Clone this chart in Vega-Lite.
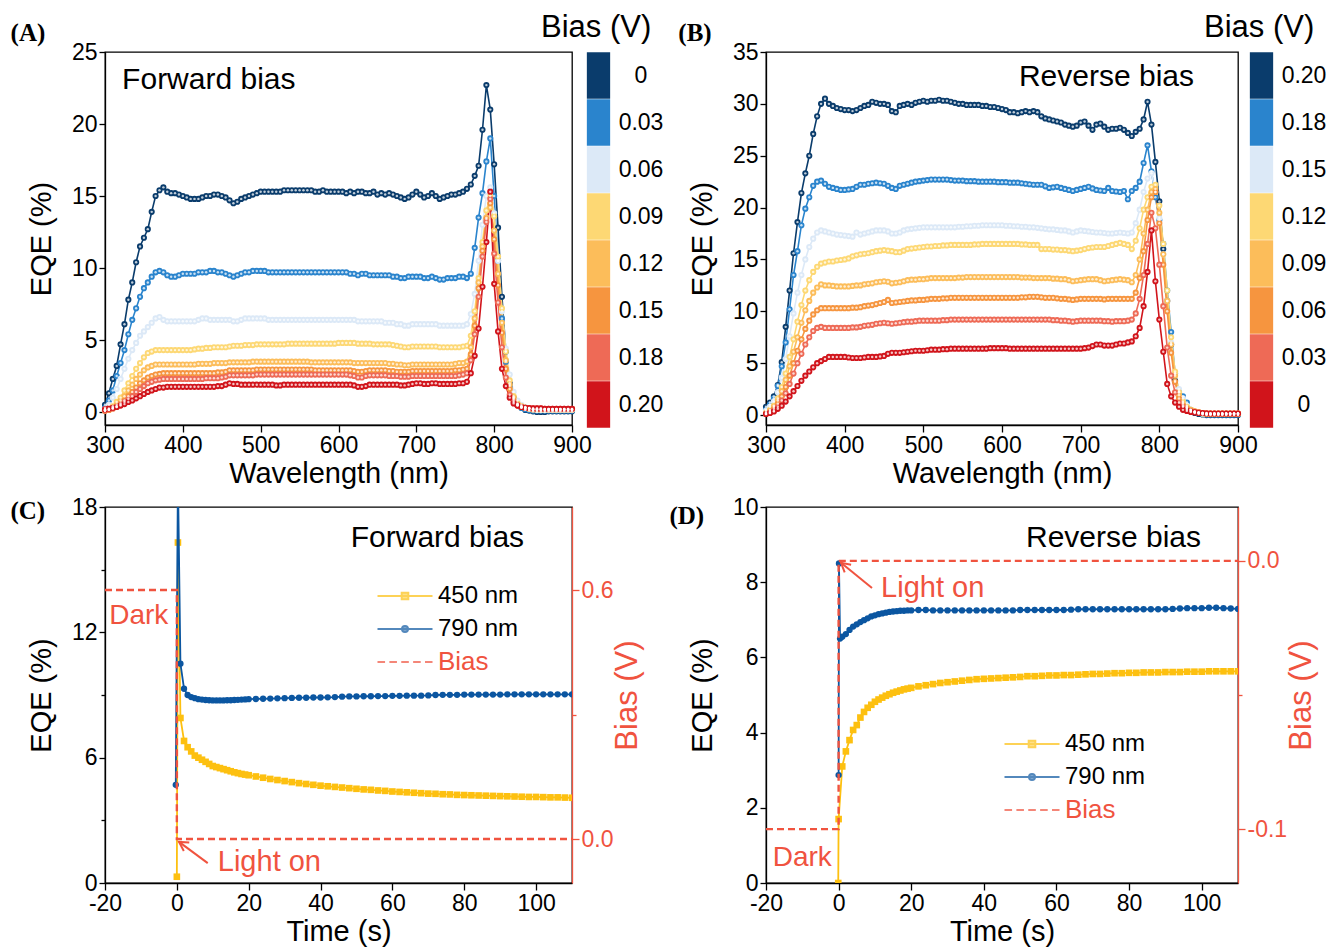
{
"$schema": "https://vega.github.io/schema/vega-lite/v6.json",
"padding": {"left": 9, "top": 11, "right": 0, "bottom": 0},
"background": "white",
"config": {
  "font": "Liberation Sans",
  "view": {"stroke": "black", "strokeWidth": 1.3},
  "axis": {"grid": false, "domainColor": "black", "domainWidth": 1.3, "tickColor": "black", "tickWidth": 1.3, "labelColor": "black", "titleColor": "black", "labelFont": "Liberation Sans", "titleFont": "Liberation Sans", "labelFontSize": 23, "titleFontSize": 29, "titleFontWeight": "normal", "labelFlush": false, "labelOverlap": false, "labelPadding": 2},
  "legend": {"labelFont": "Liberation Sans"}
},
"datasets": {
"A": [
{"w":300,"k0":0.5,"k03":0.3,"k06":0.2,"k09":0.1,"k12":0.1,"k15":0.1,"k18":0.1,"k20":0.2},
{"w":305,"k0":1.3,"k03":0.8,"k06":0.5,"k09":0.2,"k12":0.15,"k15":0.15,"k18":0.2,"k20":0.25},
{"w":310,"k0":2.3,"k03":1.5,"k06":1.0,"k09":0.4,"k12":0.3,"k15":0.25,"k18":0.25,"k20":0.3},
{"w":315,"k0":3.2,"k03":2.5,"k06":1.6,"k09":0.7,"k12":0.5,"k15":0.4,"k18":0.35,"k20":0.35},
{"w":320,"k0":4.7,"k03":3.4,"k06":2.3,"k09":1.0,"k12":0.8,"k15":0.6,"k18":0.5,"k20":0.45},
{"w":325,"k0":6.1,"k03":4.3,"k06":3.0,"k09":1.5,"k12":1.1,"k15":0.8,"k18":0.7,"k20":0.55},
{"w":330,"k0":7.8,"k03":5.4,"k06":3.7,"k09":2.0,"k12":1.5,"k15":1.1,"k18":0.9,"k20":0.7},
{"w":335,"k0":9.0,"k03":6.4,"k06":4.3,"k09":2.5,"k12":1.9,"k15":1.4,"k18":1.1,"k20":0.8},
{"w":340,"k0":10.4,"k03":7.2,"k06":4.8,"k09":3.0,"k12":2.3,"k15":1.7,"k18":1.4,"k20":0.95},
{"w":345,"k0":11.5,"k03":8.0,"k06":5.3,"k09":3.4,"k12":2.6,"k15":2.0,"k18":1.6,"k20":1.1},
{"w":350,"k0":12.1,"k03":8.6,"k06":5.6,"k09":3.8,"k12":2.9,"k15":2.2,"k18":1.8,"k20":1.25},
{"w":355,"k0":12.7,"k03":9.0,"k06":5.9,"k09":4.1,"k12":3.1,"k15":2.4,"k18":2.0,"k20":1.4},
{"w":360,"k0":13.9,"k03":9.4,"k06":6.2,"k09":4.2,"k12":3.2,"k15":2.5,"k18":2.1,"k20":1.5},
{"w":365,"k0":15.0,"k03":9.7,"k06":6.5,"k09":4.3,"k12":3.3,"k15":2.6,"k18":2.2,"k20":1.6},
{"w":370,"k0":15.4,"k03":9.8,"k06":6.6,"k09":4.3,"k12":3.3,"k15":2.65,"k18":2.25,"k20":1.7},
{"w":375,"k0":15.6,"k03":9.7,"k06":6.4,"k09":4.3,"k12":3.3,"k15":2.7,"k18":2.3,"k20":1.7},
{"w":380,"k0":15.3,"k03":9.5,"k06":6.3,"k09":4.3,"k12":3.3,"k15":2.7,"k18":2.3,"k20":1.75},
{"w":385,"k0":15.2,"k03":9.4,"k06":6.3,"k09":4.3,"k12":3.3,"k15":2.7,"k18":2.3,"k20":1.75},
{"w":390,"k0":15.2,"k03":9.4,"k06":6.3,"k09":4.3,"k12":3.3,"k15":2.7,"k18":2.3,"k20":1.75},
{"w":395,"k0":15.1,"k03":9.5,"k06":6.3,"k09":4.3,"k12":3.3,"k15":2.7,"k18":2.3,"k20":1.75},
{"w":400,"k0":15.0,"k03":9.6,"k06":6.3,"k09":4.3,"k12":3.3,"k15":2.7,"k18":2.3,"k20":1.75},
{"w":405,"k0":14.9,"k03":9.6,"k06":6.3,"k09":4.3,"k12":3.3,"k15":2.7,"k18":2.3,"k20":1.75},
{"w":410,"k0":14.8,"k03":9.6,"k06":6.3,"k09":4.3,"k12":3.3,"k15":2.7,"k18":2.3,"k20":1.75},
{"w":415,"k0":14.8,"k03":9.6,"k06":6.3,"k09":4.35,"k12":3.3,"k15":2.7,"k18":2.3,"k20":1.75},
{"w":420,"k0":14.8,"k03":9.7,"k06":6.4,"k09":4.4,"k12":3.35,"k15":2.7,"k18":2.3,"k20":1.75},
{"w":425,"k0":14.9,"k03":9.7,"k06":6.5,"k09":4.4,"k12":3.35,"k15":2.7,"k18":2.3,"k20":1.75},
{"w":430,"k0":15.0,"k03":9.7,"k06":6.5,"k09":4.45,"k12":3.35,"k15":2.7,"k18":2.35,"k20":1.75},
{"w":435,"k0":15.0,"k03":9.8,"k06":6.4,"k09":4.45,"k12":3.35,"k15":2.7,"k18":2.35,"k20":1.75},
{"w":440,"k0":15.1,"k03":9.8,"k06":6.4,"k09":4.5,"k12":3.4,"k15":2.7,"k18":2.35,"k20":1.75},
{"w":445,"k0":15.1,"k03":9.7,"k06":6.4,"k09":4.5,"k12":3.4,"k15":2.75,"k18":2.35,"k20":1.8},
{"w":450,"k0":15.0,"k03":9.7,"k06":6.4,"k09":4.5,"k12":3.4,"k15":2.75,"k18":2.4,"k20":1.8},
{"w":455,"k0":14.9,"k03":9.6,"k06":6.4,"k09":4.5,"k12":3.4,"k15":2.8,"k18":2.45,"k20":1.9},
{"w":460,"k0":14.7,"k03":9.5,"k06":6.4,"k09":4.55,"k12":3.45,"k15":2.9,"k18":2.55,"k20":2.0},
{"w":465,"k0":14.5,"k03":9.4,"k06":6.3,"k09":4.6,"k12":3.45,"k15":2.9,"k18":2.55,"k20":1.95},
{"w":470,"k0":14.6,"k03":9.5,"k06":6.3,"k09":4.6,"k12":3.45,"k15":2.9,"k18":2.55,"k20":1.95},
{"w":475,"k0":14.8,"k03":9.6,"k06":6.4,"k09":4.6,"k12":3.45,"k15":2.9,"k18":2.55,"k20":1.9},
{"w":480,"k0":14.9,"k03":9.7,"k06":6.5,"k09":4.65,"k12":3.45,"k15":2.9,"k18":2.55,"k20":1.9},
{"w":485,"k0":15.0,"k03":9.7,"k06":6.5,"k09":4.65,"k12":3.45,"k15":2.9,"k18":2.55,"k20":1.9},
{"w":490,"k0":15.1,"k03":9.8,"k06":6.5,"k09":4.65,"k12":3.5,"k15":2.9,"k18":2.55,"k20":1.9},
{"w":495,"k0":15.2,"k03":9.8,"k06":6.5,"k09":4.7,"k12":3.5,"k15":2.95,"k18":2.6,"k20":1.9},
{"w":500,"k0":15.3,"k03":9.8,"k06":6.5,"k09":4.7,"k12":3.5,"k15":2.95,"k18":2.6,"k20":1.9},
{"w":505,"k0":15.3,"k03":9.8,"k06":6.5,"k09":4.7,"k12":3.5,"k15":2.95,"k18":2.6,"k20":1.9},
{"w":510,"k0":15.3,"k03":9.7,"k06":6.4,"k09":4.7,"k12":3.5,"k15":2.95,"k18":2.6,"k20":1.9},
{"w":515,"k0":15.3,"k03":9.7,"k06":6.4,"k09":4.7,"k12":3.5,"k15":2.95,"k18":2.6,"k20":1.9},
{"w":520,"k0":15.3,"k03":9.7,"k06":6.4,"k09":4.7,"k12":3.5,"k15":2.95,"k18":2.6,"k20":1.85},
{"w":525,"k0":15.3,"k03":9.7,"k06":6.4,"k09":4.7,"k12":3.5,"k15":2.95,"k18":2.6,"k20":1.85},
{"w":530,"k0":15.4,"k03":9.7,"k06":6.4,"k09":4.7,"k12":3.5,"k15":2.95,"k18":2.6,"k20":1.9},
{"w":535,"k0":15.4,"k03":9.7,"k06":6.4,"k09":4.75,"k12":3.5,"k15":2.95,"k18":2.6,"k20":1.9},
{"w":540,"k0":15.4,"k03":9.7,"k06":6.4,"k09":4.75,"k12":3.5,"k15":2.95,"k18":2.6,"k20":1.9},
{"w":545,"k0":15.4,"k03":9.7,"k06":6.4,"k09":4.75,"k12":3.5,"k15":2.95,"k18":2.6,"k20":1.9},
{"w":550,"k0":15.4,"k03":9.7,"k06":6.4,"k09":4.75,"k12":3.5,"k15":2.95,"k18":2.6,"k20":1.9},
{"w":555,"k0":15.4,"k03":9.7,"k06":6.4,"k09":4.75,"k12":3.5,"k15":2.95,"k18":2.6,"k20":1.9},
{"w":560,"k0":15.4,"k03":9.7,"k06":6.4,"k09":4.75,"k12":3.5,"k15":2.95,"k18":2.6,"k20":1.9},
{"w":565,"k0":15.4,"k03":9.7,"k06":6.4,"k09":4.75,"k12":3.45,"k15":2.95,"k18":2.6,"k20":1.9},
{"w":570,"k0":15.3,"k03":9.7,"k06":6.4,"k09":4.75,"k12":3.45,"k15":2.9,"k18":2.6,"k20":1.9},
{"w":575,"k0":15.3,"k03":9.7,"k06":6.4,"k09":4.75,"k12":3.45,"k15":2.9,"k18":2.6,"k20":1.9},
{"w":580,"k0":15.4,"k03":9.7,"k06":6.4,"k09":4.75,"k12":3.45,"k15":2.9,"k18":2.6,"k20":1.9},
{"w":585,"k0":15.3,"k03":9.7,"k06":6.4,"k09":4.75,"k12":3.45,"k15":2.9,"k18":2.6,"k20":1.9},
{"w":590,"k0":15.3,"k03":9.7,"k06":6.4,"k09":4.75,"k12":3.45,"k15":2.9,"k18":2.6,"k20":1.9},
{"w":595,"k0":15.3,"k03":9.7,"k06":6.4,"k09":4.75,"k12":3.45,"k15":2.9,"k18":2.6,"k20":1.9},
{"w":600,"k0":15.3,"k03":9.7,"k06":6.4,"k09":4.8,"k12":3.45,"k15":2.9,"k18":2.6,"k20":1.9},
{"w":605,"k0":15.3,"k03":9.7,"k06":6.4,"k09":4.8,"k12":3.45,"k15":2.9,"k18":2.6,"k20":1.9},
{"w":610,"k0":15.2,"k03":9.7,"k06":6.4,"k09":4.8,"k12":3.45,"k15":2.9,"k18":2.6,"k20":1.9},
{"w":615,"k0":15.3,"k03":9.6,"k06":6.4,"k09":4.8,"k12":3.45,"k15":2.9,"k18":2.55,"k20":1.9},
{"w":620,"k0":15.2,"k03":9.6,"k06":6.4,"k09":4.8,"k12":3.4,"k15":2.85,"k18":2.5,"k20":1.85},
{"w":625,"k0":15.3,"k03":9.5,"k06":6.3,"k09":4.75,"k12":3.4,"k15":2.8,"k18":2.4,"k20":1.75},
{"w":630,"k0":15.3,"k03":9.6,"k06":6.3,"k09":4.75,"k12":3.4,"k15":2.8,"k18":2.4,"k20":1.75},
{"w":635,"k0":15.2,"k03":9.6,"k06":6.3,"k09":4.75,"k12":3.4,"k15":2.85,"k18":2.5,"k20":1.8},
{"w":640,"k0":15.2,"k03":9.5,"k06":6.3,"k09":4.75,"k12":3.4,"k15":2.9,"k18":2.55,"k20":1.9},
{"w":645,"k0":15.3,"k03":9.5,"k06":6.3,"k09":4.7,"k12":3.4,"k15":2.9,"k18":2.55,"k20":1.9},
{"w":650,"k0":15.1,"k03":9.5,"k06":6.3,"k09":4.7,"k12":3.4,"k15":2.9,"k18":2.55,"k20":1.9},
{"w":655,"k0":15.2,"k03":9.5,"k06":6.3,"k09":4.7,"k12":3.4,"k15":2.9,"k18":2.55,"k20":1.9},
{"w":660,"k0":15.1,"k03":9.5,"k06":6.2,"k09":4.7,"k12":3.4,"k15":2.9,"k18":2.55,"k20":1.9},
{"w":665,"k0":15.2,"k03":9.5,"k06":6.2,"k09":4.7,"k12":3.35,"k15":2.85,"k18":2.5,"k20":1.9},
{"w":670,"k0":15.1,"k03":9.4,"k06":6.2,"k09":4.65,"k12":3.35,"k15":2.85,"k18":2.5,"k20":1.9},
{"w":675,"k0":15.0,"k03":9.4,"k06":6.1,"k09":4.6,"k12":3.3,"k15":2.8,"k18":2.5,"k20":1.9},
{"w":680,"k0":14.9,"k03":9.3,"k06":6.1,"k09":4.55,"k12":3.3,"k15":2.8,"k18":2.45,"k20":1.85},
{"w":685,"k0":14.8,"k03":9.3,"k06":6.0,"k09":4.5,"k12":3.25,"k15":2.8,"k18":2.45,"k20":1.85},
{"w":690,"k0":14.9,"k03":9.4,"k06":6.0,"k09":4.5,"k12":3.25,"k15":2.8,"k18":2.45,"k20":1.9},
{"w":695,"k0":15.1,"k03":9.4,"k06":6.1,"k09":4.55,"k12":3.3,"k15":2.85,"k18":2.5,"k20":1.95},
{"w":700,"k0":15.3,"k03":9.4,"k06":6.1,"k09":4.55,"k12":3.3,"k15":2.85,"k18":2.5,"k20":2.0},
{"w":705,"k0":15.1,"k03":9.4,"k06":6.1,"k09":4.55,"k12":3.3,"k15":2.85,"k18":2.5,"k20":2.0},
{"w":710,"k0":14.9,"k03":9.3,"k06":6.1,"k09":4.55,"k12":3.3,"k15":2.85,"k18":2.5,"k20":1.95},
{"w":715,"k0":15.0,"k03":9.3,"k06":6.1,"k09":4.55,"k12":3.3,"k15":2.85,"k18":2.5,"k20":1.95},
{"w":720,"k0":15.2,"k03":9.4,"k06":6.1,"k09":4.55,"k12":3.3,"k15":2.85,"k18":2.5,"k20":2.0},
{"w":725,"k0":15.0,"k03":9.3,"k06":6.1,"k09":4.55,"k12":3.3,"k15":2.85,"k18":2.5,"k20":2.0},
{"w":730,"k0":14.8,"k03":9.2,"k06":6.0,"k09":4.5,"k12":3.3,"k15":2.85,"k18":2.5,"k20":1.95},
{"w":735,"k0":14.9,"k03":9.2,"k06":6.0,"k09":4.5,"k12":3.3,"k15":2.85,"k18":2.5,"k20":1.95},
{"w":740,"k0":15.0,"k03":9.3,"k06":6.0,"k09":4.5,"k12":3.3,"k15":2.85,"k18":2.5,"k20":1.95},
{"w":745,"k0":15.1,"k03":9.3,"k06":6.0,"k09":4.5,"k12":3.3,"k15":2.85,"k18":2.5,"k20":1.95},
{"w":750,"k0":15.1,"k03":9.3,"k06":6.0,"k09":4.5,"k12":3.35,"k15":2.9,"k18":2.5,"k20":1.95},
{"w":755,"k0":15.2,"k03":9.4,"k06":6.0,"k09":4.5,"k12":3.4,"k15":2.9,"k18":2.55,"k20":2.0},
{"w":760,"k0":15.3,"k03":9.4,"k06":6.0,"k09":4.55,"k12":3.4,"k15":2.95,"k18":2.6,"k20":2.0},
{"w":765,"k0":15.5,"k03":9.3,"k06":6.1,"k09":4.6,"k12":3.5,"k15":3.0,"k18":2.7,"k20":2.1},
{"w":770,"k0":15.8,"k03":9.6,"k06":6.8,"k09":5.3,"k12":4.5,"k15":4.0,"k18":3.6,"k20":2.7},
{"w":775,"k0":16.4,"k03":11.4,"k06":8.2,"k09":7.0,"k12":6.5,"k15":6.0,"k18":5.4,"k20":3.9},
{"w":780,"k0":17.1,"k03":13.5,"k06":10.5,"k09":9.3,"k12":9.0,"k15":8.6,"k18":8.0,"k20":5.8},
{"w":785,"k0":19.6,"k03":15.2,"k06":13.0,"k09":11.8,"k12":11.5,"k15":11.2,"k18":10.8,"k20":8.7},
{"w":790,"k0":22.7,"k03":17.4,"k06":15.0,"k09":14.0,"k12":13.5,"k15":13.4,"k18":13.2,"k20":11.8},
{"w":795,"k0":21.0,"k03":19.0,"k06":15.6,"k09":15.0,"k12":14.2,"k15":14.5,"k18":14.8,"k20":15.3},
{"w":800,"k0":17.2,"k03":15.0,"k06":13.8,"k09":13.6,"k12":12.6,"k15":12.0,"k18":11.0,"k20":8.9},
{"w":805,"k0":12.8,"k03":10.5,"k06":10.5,"k09":10.8,"k12":9.6,"k15":8.8,"k18":7.6,"k20":5.6},
{"w":810,"k0":8.0,"k03":6.5,"k06":7.0,"k09":7.2,"k12":6.2,"k15":5.5,"k18":4.5,"k20":3.0},
{"w":815,"k0":4.2,"k03":3.5,"k06":4.4,"k09":4.2,"k12":3.6,"k15":3.0,"k18":2.4,"k20":1.8},
{"w":820,"k0":2.0,"k03":1.8,"k06":2.6,"k09":2.2,"k12":1.9,"k15":1.6,"k18":1.2,"k20":1.0},
{"w":825,"k0":1.0,"k03":0.9,"k06":1.4,"k09":1.1,"k12":1.0,"k15":0.8,"k18":0.7,"k20":0.6},
{"w":830,"k0":0.5,"k03":0.5,"k06":0.8,"k09":0.6,"k12":0.55,"k15":0.5,"k18":0.45,"k20":0.45},
{"w":835,"k0":0.3,"k03":0.3,"k06":0.5,"k09":0.4,"k12":0.4,"k15":0.35,"k18":0.35,"k20":0.35},
{"w":840,"k0":0.15,"k03":0.2,"k06":0.35,"k09":0.3,"k12":0.3,"k15":0.3,"k18":0.3,"k20":0.3},
{"w":845,"k0":0.1,"k03":0.15,"k06":0.25,"k09":0.25,"k12":0.25,"k15":0.25,"k18":0.28,"k20":0.28},
{"w":850,"k0":0.05,"k03":0.1,"k06":0.2,"k09":0.2,"k12":0.2,"k15":0.2,"k18":0.25,"k20":0.25},
{"w":855,"k0":0.0,"k03":0.1,"k06":0.15,"k09":0.2,"k12":0.2,"k15":0.2,"k18":0.25,"k20":0.25},
{"w":860,"k0":0.0,"k03":0.1,"k06":0.15,"k09":0.2,"k12":0.2,"k15":0.2,"k18":0.25,"k20":0.25},
{"w":865,"k0":0.0,"k03":0.1,"k06":0.15,"k09":0.2,"k12":0.2,"k15":0.2,"k18":0.22,"k20":0.22},
{"w":870,"k0":0.05,"k03":0.1,"k06":0.15,"k09":0.2,"k12":0.2,"k15":0.2,"k18":0.22,"k20":0.22},
{"w":875,"k0":0.05,"k03":0.1,"k06":0.15,"k09":0.2,"k12":0.2,"k15":0.2,"k18":0.22,"k20":0.22},
{"w":880,"k0":0.05,"k03":0.1,"k06":0.15,"k09":0.2,"k12":0.2,"k15":0.2,"k18":0.22,"k20":0.22},
{"w":885,"k0":0.05,"k03":0.1,"k06":0.15,"k09":0.2,"k12":0.2,"k15":0.2,"k18":0.22,"k20":0.22},
{"w":890,"k0":0.05,"k03":0.1,"k06":0.15,"k09":0.2,"k12":0.2,"k15":0.2,"k18":0.22,"k20":0.22},
{"w":895,"k0":0.05,"k03":0.1,"k06":0.15,"k09":0.2,"k12":0.2,"k15":0.2,"k18":0.22,"k20":0.22},
{"w":900,"k0":0.05,"k03":0.1,"k06":0.15,"k09":0.2,"k12":0.2,"k15":0.2,"k18":0.22,"k20":0.22}
],
"B": [
{"w":300,"k20":0.8,"k18":0.5,"k15":0.4,"k12":0.2,"k09":0.2,"k06":0.1,"k03":0.1,"k0":0.1},
{"w":305,"k20":1.2,"k18":1.0,"k15":0.8,"k12":0.5,"k09":0.4,"k06":0.3,"k03":0.2,"k0":0.2},
{"w":310,"k20":1.8,"k18":1.6,"k15":1.3,"k12":0.9,"k09":0.8,"k06":0.6,"k03":0.4,"k0":0.35},
{"w":315,"k20":2.9,"k18":2.8,"k15":2.2,"k12":1.6,"k09":1.4,"k06":1.1,"k03":0.8,"k0":0.6},
{"w":320,"k20":5.1,"k18":4.7,"k15":3.6,"k12":2.7,"k09":2.3,"k06":1.8,"k03":1.4,"k0":0.9},
{"w":325,"k20":8.5,"k18":7.0,"k15":5.4,"k12":4.0,"k09":3.4,"k06":2.7,"k03":2.1,"k0":1.3},
{"w":330,"k20":12.0,"k18":10.2,"k15":7.6,"k12":5.6,"k09":4.7,"k06":3.8,"k03":3.0,"k0":1.8},
{"w":335,"k20":15.6,"k18":13.5,"k15":9.8,"k12":7.3,"k09":6.1,"k06":5.0,"k03":4.0,"k0":2.3},
{"w":340,"k20":18.6,"k18":15.8,"k15":11.8,"k12":9.0,"k09":7.5,"k06":6.2,"k03":5.0,"k0":2.8},
{"w":345,"k20":21.4,"k18":18.3,"k15":13.5,"k12":10.6,"k09":8.9,"k06":7.3,"k03":5.9,"k0":3.3},
{"w":350,"k20":23.3,"k18":19.9,"k15":15.0,"k12":12.0,"k09":10.1,"k06":8.3,"k03":6.8,"k0":3.8},
{"w":355,"k20":25.0,"k18":21.0,"k15":16.2,"k12":13.0,"k09":11.0,"k06":9.1,"k03":7.5,"k0":4.2},
{"w":360,"k20":27.1,"k18":22.1,"k15":17.0,"k12":13.8,"k09":11.8,"k06":9.7,"k03":8.1,"k0":4.6},
{"w":365,"k20":28.8,"k18":22.5,"k15":17.6,"k12":14.3,"k09":12.3,"k06":10.1,"k03":8.4,"k0":5.0},
{"w":370,"k20":30.0,"k18":22.6,"k15":17.8,"k12":14.6,"k09":12.6,"k06":10.3,"k03":8.5,"k0":5.2},
{"w":375,"k20":30.5,"k18":22.3,"k15":17.7,"k12":14.7,"k09":12.5,"k06":10.3,"k03":8.4,"k0":5.4},
{"w":380,"k20":30.0,"k18":22.0,"k15":17.6,"k12":14.8,"k09":12.5,"k06":10.3,"k03":8.4,"k0":5.6},
{"w":385,"k20":29.8,"k18":21.9,"k15":17.5,"k12":14.8,"k09":12.45,"k06":10.3,"k03":8.4,"k0":5.6},
{"w":390,"k20":29.6,"k18":21.8,"k15":17.4,"k12":14.9,"k09":12.4,"k06":10.3,"k03":8.4,"k0":5.6},
{"w":395,"k20":29.5,"k18":21.7,"k15":17.35,"k12":14.95,"k09":12.4,"k06":10.3,"k03":8.4,"k0":5.6},
{"w":400,"k20":29.4,"k18":21.7,"k15":17.3,"k12":15.0,"k09":12.4,"k06":10.3,"k03":8.4,"k0":5.6},
{"w":405,"k20":29.4,"k18":21.75,"k15":17.25,"k12":15.1,"k09":12.4,"k06":10.3,"k03":8.4,"k0":5.55},
{"w":410,"k20":29.3,"k18":21.8,"k15":17.2,"k12":15.3,"k09":12.45,"k06":10.35,"k03":8.45,"k0":5.5},
{"w":415,"k20":29.4,"k18":22.0,"k15":17.6,"k12":15.4,"k09":12.5,"k06":10.35,"k03":8.45,"k0":5.5},
{"w":420,"k20":29.6,"k18":22.2,"k15":17.4,"k12":15.5,"k09":12.5,"k06":10.4,"k03":8.5,"k0":5.5},
{"w":425,"k20":29.8,"k18":22.2,"k15":17.5,"k12":15.55,"k09":12.6,"k06":10.5,"k03":8.6,"k0":5.55},
{"w":430,"k20":29.9,"k18":22.3,"k15":17.6,"k12":15.6,"k09":12.65,"k06":10.55,"k03":8.65,"k0":5.6},
{"w":435,"k20":30.2,"k18":22.35,"k15":17.7,"k12":15.7,"k09":12.7,"k06":10.6,"k03":8.7,"k0":5.6},
{"w":440,"k20":30.1,"k18":22.4,"k15":17.8,"k12":15.8,"k09":12.8,"k06":10.7,"k03":8.8,"k0":5.6},
{"w":445,"k20":30.0,"k18":22.35,"k15":17.8,"k12":15.85,"k09":12.85,"k06":10.8,"k03":8.85,"k0":5.65},
{"w":450,"k20":30.0,"k18":22.3,"k15":17.8,"k12":15.9,"k09":12.9,"k06":10.9,"k03":8.9,"k0":5.7},
{"w":455,"k20":29.9,"k18":22.1,"k15":17.7,"k12":15.85,"k09":12.85,"k06":11.1,"k03":8.85,"k0":5.9},
{"w":460,"k20":29.3,"k18":21.9,"k15":17.5,"k12":15.8,"k09":12.7,"k06":10.8,"k03":8.8,"k0":6.0},
{"w":465,"k20":29.2,"k18":21.8,"k15":17.5,"k12":15.7,"k09":12.75,"k06":10.85,"k03":8.85,"k0":6.0},
{"w":470,"k20":29.8,"k18":22.1,"k15":17.6,"k12":15.7,"k09":12.8,"k06":10.9,"k03":8.9,"k0":6.0},
{"w":475,"k20":29.9,"k18":22.2,"k15":17.8,"k12":15.85,"k09":12.9,"k06":10.95,"k03":8.95,"k0":6.05},
{"w":480,"k20":30.0,"k18":22.3,"k15":17.9,"k12":16.0,"k09":13.0,"k06":11.0,"k03":9.0,"k0":6.1},
{"w":485,"k20":29.9,"k18":22.4,"k15":17.95,"k12":16.05,"k09":13.05,"k06":11.05,"k03":9.0,"k0":6.15},
{"w":490,"k20":30.1,"k18":22.5,"k15":18.0,"k12":16.1,"k09":13.05,"k06":11.05,"k03":9.05,"k0":6.2},
{"w":495,"k20":30.2,"k18":22.55,"k15":18.05,"k12":16.15,"k09":13.1,"k06":11.1,"k03":9.1,"k0":6.2},
{"w":500,"k20":30.3,"k18":22.6,"k15":18.1,"k12":16.2,"k09":13.1,"k06":11.1,"k03":9.1,"k0":6.2},
{"w":505,"k20":30.2,"k18":22.65,"k15":18.1,"k12":16.25,"k09":13.15,"k06":11.15,"k03":9.1,"k0":6.25},
{"w":510,"k20":30.3,"k18":22.7,"k15":18.1,"k12":16.25,"k09":13.2,"k06":11.2,"k03":9.1,"k0":6.3},
{"w":515,"k20":30.3,"k18":22.7,"k15":18.1,"k12":16.3,"k09":13.2,"k06":11.2,"k03":9.1,"k0":6.3},
{"w":520,"k20":30.4,"k18":22.7,"k15":18.1,"k12":16.3,"k09":13.2,"k06":11.2,"k03":9.1,"k0":6.3},
{"w":525,"k20":30.3,"k18":22.7,"k15":18.1,"k12":16.35,"k09":13.2,"k06":11.25,"k03":9.15,"k0":6.35},
{"w":530,"k20":30.3,"k18":22.7,"k15":18.1,"k12":16.35,"k09":13.2,"k06":11.25,"k03":9.15,"k0":6.35},
{"w":535,"k20":30.2,"k18":22.65,"k15":18.1,"k12":16.4,"k09":13.2,"k06":11.3,"k03":9.2,"k0":6.4},
{"w":540,"k20":30.1,"k18":22.6,"k15":18.1,"k12":16.4,"k09":13.2,"k06":11.3,"k03":9.2,"k0":6.4},
{"w":545,"k20":30.0,"k18":22.6,"k15":18.15,"k12":16.4,"k09":13.25,"k06":11.3,"k03":9.2,"k0":6.4},
{"w":550,"k20":30.0,"k18":22.6,"k15":18.15,"k12":16.4,"k09":13.25,"k06":11.3,"k03":9.2,"k0":6.4},
{"w":555,"k20":29.9,"k18":22.55,"k15":18.2,"k12":16.4,"k09":13.3,"k06":11.3,"k03":9.2,"k0":6.4},
{"w":560,"k20":29.9,"k18":22.55,"k15":18.2,"k12":16.4,"k09":13.3,"k06":11.3,"k03":9.2,"k0":6.4},
{"w":565,"k20":29.9,"k18":22.55,"k15":18.25,"k12":16.45,"k09":13.3,"k06":11.3,"k03":9.2,"k0":6.4},
{"w":570,"k20":29.9,"k18":22.5,"k15":18.25,"k12":16.45,"k09":13.3,"k06":11.3,"k03":9.2,"k0":6.4},
{"w":575,"k20":29.8,"k18":22.5,"k15":18.3,"k12":16.5,"k09":13.3,"k06":11.3,"k03":9.2,"k0":6.4},
{"w":580,"k20":29.8,"k18":22.5,"k15":18.3,"k12":16.5,"k09":13.3,"k06":11.3,"k03":9.2,"k0":6.4},
{"w":585,"k20":29.7,"k18":22.5,"k15":18.3,"k12":16.5,"k09":13.3,"k06":11.3,"k03":9.2,"k0":6.45},
{"w":590,"k20":29.7,"k18":22.5,"k15":18.3,"k12":16.5,"k09":13.3,"k06":11.3,"k03":9.2,"k0":6.45},
{"w":595,"k20":29.6,"k18":22.45,"k15":18.3,"k12":16.5,"k09":13.3,"k06":11.3,"k03":9.2,"k0":6.45},
{"w":600,"k20":29.5,"k18":22.45,"k15":18.3,"k12":16.5,"k09":13.3,"k06":11.3,"k03":9.2,"k0":6.45},
{"w":605,"k20":29.4,"k18":22.45,"k15":18.25,"k12":16.5,"k09":13.3,"k06":11.3,"k03":9.2,"k0":6.45},
{"w":610,"k20":29.2,"k18":22.4,"k15":18.25,"k12":16.5,"k09":13.3,"k06":11.3,"k03":9.2,"k0":6.4},
{"w":615,"k20":29.2,"k18":22.4,"k15":18.2,"k12":16.5,"k09":13.3,"k06":11.3,"k03":9.2,"k0":6.4},
{"w":620,"k20":29.1,"k18":22.4,"k15":18.2,"k12":16.5,"k09":13.3,"k06":11.3,"k03":9.2,"k0":6.4},
{"w":625,"k20":29.2,"k18":22.35,"k15":18.15,"k12":16.45,"k09":13.25,"k06":11.35,"k03":9.2,"k0":6.4},
{"w":630,"k20":29.3,"k18":22.3,"k15":18.15,"k12":16.45,"k09":13.25,"k06":11.35,"k03":9.2,"k0":6.4},
{"w":635,"k20":29.2,"k18":22.25,"k15":18.1,"k12":16.4,"k09":13.25,"k06":11.4,"k03":9.2,"k0":6.4},
{"w":640,"k20":29.3,"k18":22.2,"k15":18.1,"k12":16.4,"k09":13.2,"k06":11.4,"k03":9.2,"k0":6.4},
{"w":645,"k20":29.2,"k18":22.2,"k15":18.05,"k12":16.4,"k09":13.2,"k06":11.4,"k03":9.2,"k0":6.4},
{"w":650,"k20":28.8,"k18":22.2,"k15":18.0,"k12":16.0,"k09":13.2,"k06":11.35,"k03":9.2,"k0":6.4},
{"w":655,"k20":28.6,"k18":22.05,"k15":17.95,"k12":16.0,"k09":13.2,"k06":11.3,"k03":9.2,"k0":6.4},
{"w":660,"k20":28.5,"k18":21.9,"k15":17.9,"k12":16.0,"k09":13.2,"k06":11.3,"k03":9.2,"k0":6.4},
{"w":665,"k20":28.4,"k18":21.95,"k15":17.9,"k12":15.95,"k09":13.15,"k06":11.3,"k03":9.15,"k0":6.4},
{"w":670,"k20":28.3,"k18":22.0,"k15":17.85,"k12":15.95,"k09":13.15,"k06":11.25,"k03":9.15,"k0":6.4},
{"w":675,"k20":28.2,"k18":21.9,"k15":17.8,"k12":15.9,"k09":13.1,"k06":11.2,"k03":9.1,"k0":6.4},
{"w":680,"k20":28.0,"k18":21.8,"k15":17.8,"k12":15.9,"k09":13.1,"k06":11.2,"k03":9.1,"k0":6.4},
{"w":685,"k20":27.9,"k18":21.7,"k15":17.7,"k12":15.85,"k09":13.0,"k06":11.15,"k03":9.05,"k0":6.4},
{"w":690,"k20":27.8,"k18":21.6,"k15":17.6,"k12":15.8,"k09":12.9,"k06":11.1,"k03":9.0,"k0":6.4},
{"w":695,"k20":27.9,"k18":21.7,"k15":17.7,"k12":15.85,"k09":12.95,"k06":11.15,"k03":9.05,"k0":6.4},
{"w":700,"k20":28.2,"k18":21.8,"k15":17.8,"k12":15.9,"k09":13.0,"k06":11.2,"k03":9.1,"k0":6.4},
{"w":705,"k20":28.3,"k18":21.9,"k15":17.75,"k12":16.0,"k09":13.05,"k06":11.2,"k03":9.1,"k0":6.45},
{"w":710,"k20":27.9,"k18":22.0,"k15":17.7,"k12":16.1,"k09":13.1,"k06":11.2,"k03":9.1,"k0":6.5},
{"w":715,"k20":27.5,"k18":21.85,"k15":17.65,"k12":16.15,"k09":13.1,"k06":11.2,"k03":9.1,"k0":6.65},
{"w":720,"k20":28.0,"k18":21.7,"k15":17.6,"k12":16.2,"k09":13.1,"k06":11.2,"k03":9.1,"k0":6.8},
{"w":725,"k20":28.1,"k18":21.65,"k15":17.6,"k12":16.2,"k09":13.0,"k06":11.2,"k03":9.1,"k0":6.8},
{"w":730,"k20":27.8,"k18":21.6,"k15":17.55,"k12":16.2,"k09":12.9,"k06":11.15,"k03":9.05,"k0":6.7},
{"w":735,"k20":27.5,"k18":21.9,"k15":17.5,"k12":16.3,"k09":12.95,"k06":11.2,"k03":9.05,"k0":6.7},
{"w":740,"k20":27.6,"k18":21.6,"k15":17.5,"k12":16.4,"k09":13.0,"k06":11.2,"k03":9.0,"k0":6.7},
{"w":745,"k20":27.6,"k18":21.55,"k15":17.55,"k12":16.5,"k09":13.05,"k06":11.2,"k03":9.05,"k0":6.8},
{"w":750,"k20":27.7,"k18":21.5,"k15":17.6,"k12":16.6,"k09":13.1,"k06":11.2,"k03":9.05,"k0":6.9},
{"w":755,"k20":27.5,"k18":21.6,"k15":17.55,"k12":16.5,"k09":13.05,"k06":11.2,"k03":9.05,"k0":6.9},
{"w":760,"k20":27.2,"k18":20.8,"k15":17.5,"k12":16.4,"k09":13.0,"k06":11.2,"k03":9.1,"k0":7.0},
{"w":765,"k20":26.9,"k18":21.6,"k15":17.6,"k12":16.0,"k09":12.8,"k06":11.2,"k03":9.2,"k0":7.1},
{"w":770,"k20":27.3,"k18":21.9,"k15":18.5,"k12":16.8,"k09":13.5,"k06":11.8,"k03":9.8,"k0":7.6},
{"w":775,"k20":27.6,"k18":22.5,"k15":19.8,"k12":18.0,"k09":15.0,"k06":13.2,"k03":11.2,"k0":8.4},
{"w":780,"k20":28.5,"k18":24.3,"k15":21.5,"k12":19.8,"k09":17.5,"k06":15.8,"k03":13.5,"k0":10.5},
{"w":785,"k20":30.2,"k18":26.0,"k15":22.8,"k12":21.0,"k09":19.8,"k06":18.8,"k03":16.5,"k0":13.8},
{"w":790,"k20":28.0,"k18":23.5,"k15":23.3,"k12":22.0,"k09":21.5,"k06":21.0,"k03":19.5,"k0":17.8},
{"w":795,"k20":24.4,"k18":21.0,"k15":21.5,"k12":22.2,"k09":21.8,"k06":21.5,"k03":18.0,"k0":12.9},
{"w":800,"k20":20.6,"k18":18.8,"k15":19.0,"k12":20.2,"k09":19.5,"k06":18.5,"k03":14.5,"k0":9.2},
{"w":805,"k20":16.0,"k18":16.5,"k15":15.5,"k12":16.5,"k09":15.5,"k06":14.5,"k03":10.5,"k0":6.1},
{"w":810,"k20":11.0,"k18":12.0,"k15":11.0,"k12":12.0,"k09":11.0,"k06":10.0,"k03":6.5,"k0":3.0},
{"w":815,"k20":6.8,"k18":8.0,"k15":7.0,"k12":7.5,"k09":6.8,"k06":6.0,"k03":3.8,"k0":1.8},
{"w":820,"k20":3.3,"k18":4.0,"k15":4.0,"k12":4.2,"k09":3.8,"k06":3.2,"k03":2.2,"k0":1.2},
{"w":825,"k20":2.2,"k18":2.3,"k15":2.5,"k12":2.2,"k09":1.9,"k06":1.6,"k03":1.2,"k0":0.8},
{"w":830,"k20":1.2,"k18":1.8,"k15":1.6,"k12":1.3,"k09":1.1,"k06":0.9,"k03":0.8,"k0":0.5},
{"w":835,"k20":0.7,"k18":1.2,"k15":0.9,"k12":0.8,"k09":0.7,"k06":0.6,"k03":0.5,"k0":0.4},
{"w":840,"k20":0.4,"k18":0.5,"k15":0.5,"k12":0.5,"k09":0.5,"k06":0.4,"k03":0.35,"k0":0.3},
{"w":845,"k20":0.2,"k18":0.3,"k15":0.3,"k12":0.35,"k09":0.35,"k06":0.3,"k03":0.3,"k0":0.25},
{"w":850,"k20":0.1,"k18":0.2,"k15":0.2,"k12":0.25,"k09":0.25,"k06":0.25,"k03":0.25,"k0":0.2},
{"w":855,"k20":0.05,"k18":0.1,"k15":0.15,"k12":0.15,"k09":0.2,"k06":0.2,"k03":0.2,"k0":0.2},
{"w":860,"k20":0.0,"k18":0.05,"k15":0.1,"k12":0.1,"k09":0.15,"k06":0.15,"k03":0.2,"k0":0.15},
{"w":865,"k20":0.0,"k18":0.05,"k15":0.1,"k12":0.1,"k09":0.15,"k06":0.15,"k03":0.15,"k0":0.15},
{"w":870,"k20":0.0,"k18":0.05,"k15":0.1,"k12":0.1,"k09":0.15,"k06":0.15,"k03":0.15,"k0":0.15},
{"w":875,"k20":0.0,"k18":0.05,"k15":0.1,"k12":0.1,"k09":0.15,"k06":0.15,"k03":0.15,"k0":0.15},
{"w":880,"k20":0.0,"k18":0.05,"k15":0.1,"k12":0.1,"k09":0.15,"k06":0.15,"k03":0.15,"k0":0.15},
{"w":885,"k20":0.0,"k18":0.05,"k15":0.1,"k12":0.1,"k09":0.15,"k06":0.15,"k03":0.15,"k0":0.15},
{"w":890,"k20":0.0,"k18":0.05,"k15":0.1,"k12":0.1,"k09":0.15,"k06":0.15,"k03":0.15,"k0":0.15},
{"w":895,"k20":0.0,"k18":0.05,"k15":0.1,"k12":0.1,"k09":0.15,"k06":0.15,"k03":0.15,"k0":0.15},
{"w":900,"k20":0.0,"k18":0.05,"k15":0.1,"k12":0.1,"k09":0.15,"k06":0.15,"k03":0.15,"k0":0.15}
],
"T": [
{"t":-0.3,"c7":4.7},
{"t":-0.1,"d4":0},
{"t":0,"c4":0.3,"d4":1.7,"d7":2.87},
{"t":0.1,"d7":8.5},
{"t":0.3,"c4":16.3,"c7":19.5},
{"t":0.4,"d7":6.5},
{"t":1,"c4":7.9,"c7":10.5,"d4":3.1,"d7":6.55},
{"t":2,"c4":6.8,"c7":9.3,"d4":3.5,"d7":6.62},
{"t":3,"c4":6.5,"c7":9.0,"d4":3.8,"d7":6.73},
{"t":4,"c4":6.3,"c7":8.9,"d4":4.07,"d7":6.82},
{"t":5,"c4":6.1,"c7":8.85,"d4":4.2,"d7":6.88},
{"t":6,"c4":6.0,"c7":8.8,"d4":4.4,"d7":6.94},
{"t":7,"c4":5.9,"c7":8.78,"d4":4.55,"d7":6.99},
{"t":8,"c4":5.8,"c7":8.76,"d4":4.66,"d7":7.04},
{"t":9,"c4":5.7,"c7":8.75,"d4":4.74,"d7":7.09},
{"t":10,"c4":5.6,"c7":8.74,"d4":4.82,"d7":7.12},
{"t":11,"c4":5.55,"c7":8.74,"d4":4.88,"d7":7.15},
{"t":12,"c4":5.5,"c7":8.74,"d4":4.93,"d7":7.17},
{"t":13,"c4":5.45,"c7":8.74,"d4":4.98,"d7":7.19},
{"t":14,"c4":5.4,"c7":8.75,"d4":5.02,"d7":7.21},
{"t":15,"c4":5.35,"c7":8.75,"d4":5.06,"d7":7.22},
{"t":16,"c4":5.3,"c7":8.76,"d4":5.09,"d7":7.23},
{"t":17,"c4":5.26,"c7":8.77,"d4":5.12,"d7":7.24},
{"t":18,"c4":5.22,"c7":8.78,"d4":5.15,"d7":7.24},
{"t":19,"c4":5.19,"c7":8.79,"d4":5.17,"d7":7.25},
{"t":20,"c4":5.16,"c7":8.8,"d4":5.19,"d7":7.25},
{"t":22,"c4":5.1,"c7":8.81,"d4":5.23,"d7":7.26},
{"t":24,"c4":5.04,"c7":8.82,"d4":5.26,"d7":7.26},
{"t":26,"c4":4.98,"c7":8.83,"d4":5.29,"d7":7.25},
{"t":28,"c4":4.93,"c7":8.84,"d4":5.32,"d7":7.25},
{"t":30,"c4":4.88,"c7":8.85,"d4":5.34,"d7":7.25},
{"t":32,"c4":4.83,"c7":8.86,"d4":5.36,"d7":7.25},
{"t":34,"c4":4.78,"c7":8.87,"d4":5.38,"d7":7.25},
{"t":36,"c4":4.74,"c7":8.87,"d4":5.4,"d7":7.25},
{"t":38,"c4":4.7,"c7":8.88,"d4":5.42,"d7":7.25},
{"t":40,"c4":4.66,"c7":8.88,"d4":5.43,"d7":7.25},
{"t":42,"c4":4.63,"c7":8.89,"d4":5.44,"d7":7.25},
{"t":44,"c4":4.6,"c7":8.9,"d4":5.45,"d7":7.25},
{"t":46,"c4":4.57,"c7":8.92,"d4":5.46,"d7":7.25},
{"t":48,"c4":4.54,"c7":8.93,"d4":5.47,"d7":7.25},
{"t":50,"c4":4.51,"c7":8.93,"d4":5.48,"d7":7.26},
{"t":52,"c4":4.48,"c7":8.94,"d4":5.5,"d7":7.26},
{"t":54,"c4":4.46,"c7":8.94,"d4":5.5,"d7":7.26},
{"t":56,"c4":4.43,"c7":8.95,"d4":5.51,"d7":7.26},
{"t":58,"c4":4.41,"c7":8.95,"d4":5.52,"d7":7.26},
{"t":60,"c4":4.38,"c7":8.96,"d4":5.52,"d7":7.26},
{"t":62,"c4":4.36,"c7":8.96,"d4":5.53,"d7":7.26},
{"t":64,"c4":4.34,"c7":8.97,"d4":5.53,"d7":7.27},
{"t":66,"c4":4.32,"c7":8.97,"d4":5.54,"d7":7.28},
{"t":68,"c4":4.3,"c7":8.97,"d4":5.55,"d7":7.28},
{"t":70,"c4":4.28,"c7":8.98,"d4":5.56,"d7":7.28},
{"t":72,"c4":4.27,"c7":9.0,"d4":5.56,"d7":7.28},
{"t":74,"c4":4.25,"c7":9.01,"d4":5.57,"d7":7.28},
{"t":76,"c4":4.24,"c7":9.01,"d4":5.58,"d7":7.28},
{"t":78,"c4":4.22,"c7":9.01,"d4":5.58,"d7":7.28},
{"t":80,"c4":4.21,"c7":9.02,"d4":5.59,"d7":7.28},
{"t":82,"c4":4.2,"c7":9.02,"d4":5.59,"d7":7.28},
{"t":84,"c4":4.19,"c7":9.02,"d4":5.6,"d7":7.28},
{"t":86,"c4":4.18,"c7":9.02,"d4":5.6,"d7":7.28},
{"t":88,"c4":4.17,"c7":9.02,"d4":5.6,"d7":7.28},
{"t":90,"c4":4.16,"c7":9.02,"d4":5.61,"d7":7.28},
{"t":92,"c4":4.15,"c7":9.03,"d4":5.61,"d7":7.29},
{"t":94,"c4":4.14,"c7":9.03,"d4":5.61,"d7":7.3},
{"t":96,"c4":4.13,"c7":9.03,"d4":5.62,"d7":7.31},
{"t":98,"c4":4.12,"c7":9.03,"d4":5.62,"d7":7.31},
{"t":100,"c4":4.12,"c7":9.03,"d4":5.62,"d7":7.31},
{"t":102,"c4":4.11,"c7":9.03,"d4":5.63,"d7":7.32},
{"t":104,"c4":4.1,"c7":9.03,"d4":5.63,"d7":7.32},
{"t":106,"c4":4.1,"c7":9.03,"d4":5.63,"d7":7.31},
{"t":108,"c4":4.09,"c7":9.03,"d4":5.63,"d7":7.3},
{"t":110,"c4":4.08,"c7":9.03,"d4":5.63,"d7":7.29}
]
},
"concat": [
{
"width": 467, "height": 373,
"layer": [
{
"data": {"name": "A"},
"transform": [{"fold": ["k0","k03","k06","k09","k12","k15","k18","k20"], "as": ["bias","eqe"]}],
"layer": [
{"mark": {"type": "line", "strokeWidth": 1.6},
 "encoding": {
  "x": {"field": "w", "type": "quantitative", "scale": {"domain": [300, 900], "nice": false, "zero": false},
        "axis": {"values": [300,350,400,450,500,550,600,650,700,750,800,850,900], "labelExpr": "datum.value % 100 == 0 ? datum.label : ''", "format": "d", "tickSize": {"condition": {"test": "datum.value % 100 != 0", "value": 4}, "value": 7}, "title": "Wavelength (nm)", "titlePadding": 2}},
  "y": {"field": "eqe", "type": "quantitative", "scale": {"domain": [-0.9, 25], "nice": false, "zero": false},
        "axis": {"values": [0,2.5,5,7.5,10,12.5,15,17.5,20,22.5,25], "labelExpr": "datum.value % 5 == 0 ? datum.label : ''", "format": "d", "tickSize": {"condition": {"test": "datum.value % 5 != 0", "value": 4}, "value": 6}, "title": "EQE (%)", "titlePadding": 15}},
  "color": {"field": "bias", "type": "nominal", "scale": {"domain": ["k0","k03","k06","k09","k12","k15","k18","k20"], "range": ["#0a3c6c","#2a84cd","#dce9f7","#fdd874","#fcbd5a","#f6953f","#ee6a56","#d1141b"]}, "legend": {"orient": "none", "legendX": 470, "legendY": 0, "title": null, "symbolType": "M-0.5,-1H0.5V1H-0.5Z", "symbolSize": 2172, "symbolStrokeWidth": 0, "symbolOpacity": 1, "rowPadding": 0, "padding": 0, "labelFontSize": 23, "labelColor": "black", "labelAlign": "center", "labelOffset": 19, "labelExpr": "datum.label == 'k0' ? '0' : '0.' + slice(datum.label, 1)"}}
 }},
{"mark": {"type": "point", "filled": true, "size": 38, "opacity": 1},
 "encoding": {
  "x": {"field": "w", "type": "quantitative"},
  "y": {"field": "eqe", "type": "quantitative"},
  "color": {"field": "bias", "type": "nominal", "legend": {"orient": "none", "legendX": 470, "legendY": 0, "title": null, "symbolType": "M-0.5,-1H0.5V1H-0.5Z", "symbolSize": 2172, "symbolStrokeWidth": 0, "symbolOpacity": 1, "rowPadding": 0, "padding": 0, "labelFontSize": 23, "labelColor": "black", "labelAlign": "center", "labelOffset": 19, "labelExpr": "datum.label == 'k0' ? '0' : '0.' + slice(datum.label, 1)"}},
  "order": {"field": "bias", "sort": "ascending"}
 }},
{"mark": {"type": "point", "filled": true, "size": 6, "color": "white", "opacity": 0.75},
 "encoding": {
  "x": {"field": "w", "type": "quantitative"},
  "y": {"field": "eqe", "type": "quantitative"},
  "order": {"field": "bias", "sort": "ascending"}
 }}
]
},
{"data": {"values": [{"x": 322, "y": 23.06, "s": "Forward bias"}]},
 "mark": {"type": "text", "fontSize": 30, "align": "left", "baseline": "middle", "color": "black"},
 "encoding": {"x": {"field": "x", "type": "quantitative"}, "y": {"field": "y", "type": "quantitative"}, "text": {"field": "s"}}},
{"data": {"values": [{"x": 931, "y": 26.67, "s": "Bias (V)"}]},
 "mark": {"type": "text", "fontSize": 31, "align": "center", "baseline": "middle", "color": "black"},
 "encoding": {"x": {"field": "x", "type": "quantitative"}, "y": {"field": "y", "type": "quantitative"}, "text": {"field": "s"}}},
{"data": {"values": [{"x": 201, "y": 26.3, "s": "(A)"}]},
 "mark": {"type": "text", "fontSize": 25, "font": "Liberation Serif", "fontWeight": "bold", "align": "center", "baseline": "middle", "color": "black"},
 "encoding": {"x": {"field": "x", "type": "quantitative"}, "y": {"field": "y", "type": "quantitative"}, "text": {"field": "s"}}}
]
},
{
"width": 472, "height": 373,
"layer": [
{
"data": {"name": "B"},
"transform": [{"fold": ["k20","k18","k15","k12","k09","k06","k03","k0"], "as": ["bias","eqe"]}],
"layer": [
{"mark": {"type": "line", "strokeWidth": 1.6},
 "encoding": {
  "x": {"field": "w", "type": "quantitative", "scale": {"domain": [300, 900], "nice": false, "zero": false},
        "axis": {"values": [300,350,400,450,500,550,600,650,700,750,800,850,900], "labelExpr": "datum.value % 100 == 0 ? datum.label : ''", "format": "d", "tickSize": {"condition": {"test": "datum.value % 100 != 0", "value": 4}, "value": 7}, "title": "Wavelength (nm)", "titlePadding": 2}},
  "y": {"field": "eqe", "type": "quantitative", "scale": {"domain": [-0.96, 35], "nice": false, "zero": false},
        "axis": {"values": [0,2.5,5,7.5,10,12.5,15,17.5,20,22.5,25,27.5,30,32.5,35], "labelExpr": "datum.value % 5 == 0 ? datum.label : ''", "format": "d", "tickSize": {"condition": {"test": "datum.value % 5 != 0", "value": 4}, "value": 6}, "title": "EQE (%)", "titlePadding": 15}},
  "color": {"field": "bias", "type": "nominal", "scale": {"domain": ["k20","k18","k15","k12","k09","k06","k03","k0"], "range": ["#0a3c6c","#2a84cd","#dce9f7","#fdd874","#fcbd5a","#f6953f","#ee6a56","#d1141b"]}, "legend": {"orient": "none", "legendX": 472, "legendY": 0, "title": null, "symbolType": "M-0.5,-1H0.5V1H-0.5Z", "symbolSize": 2172, "symbolStrokeWidth": 0, "symbolOpacity": 1, "rowPadding": 0, "padding": 0, "labelFontSize": 23, "labelColor": "black", "labelAlign": "center", "labelOffset": 19, "labelExpr": "datum.label == 'k0' ? '0' : '0.' + slice(datum.label, 1)"}}
 }},
{"mark": {"type": "point", "filled": true, "size": 38, "opacity": 1},
 "encoding": {
  "x": {"field": "w", "type": "quantitative"},
  "y": {"field": "eqe", "type": "quantitative"},
  "color": {"field": "bias", "type": "nominal", "legend": {"orient": "none", "legendX": 472, "legendY": 0, "title": null, "symbolType": "M-0.5,-1H0.5V1H-0.5Z", "symbolSize": 2172, "symbolStrokeWidth": 0, "symbolOpacity": 1, "rowPadding": 0, "padding": 0, "labelFontSize": 23, "labelColor": "black", "labelAlign": "center", "labelOffset": 19, "labelExpr": "datum.label == 'k0' ? '0' : '0.' + slice(datum.label, 1)"}},
  "order": {"field": "bias", "sort": "descending"}
 }},
{"mark": {"type": "point", "filled": true, "size": 6, "color": "white", "opacity": 0.75},
 "encoding": {
  "x": {"field": "w", "type": "quantitative"},
  "y": {"field": "eqe", "type": "quantitative"},
  "order": {"field": "bias", "sort": "descending"}
 }}
]
},
{"data": {"values": [{"x": 621.5, "y": 32.58, "s": "Reverse bias"}]},
 "mark": {"type": "text", "fontSize": 30, "align": "left", "baseline": "middle", "color": "black"},
 "encoding": {"x": {"field": "x", "type": "quantitative"}, "y": {"field": "y", "type": "quantitative"}, "text": {"field": "s"}}},
{"data": {"values": [{"x": 926.9, "y": 37.31, "s": "Bias (V)"}]},
 "mark": {"type": "text", "fontSize": 31, "align": "center", "baseline": "middle", "color": "black"},
 "encoding": {"x": {"field": "x", "type": "quantitative"}, "y": {"field": "y", "type": "quantitative"}, "text": {"field": "s"}}},
{"data": {"values": [{"x": 209.7, "y": 36.83, "s": "(B)"}]},
 "mark": {"type": "text", "fontSize": 25, "font": "Liberation Serif", "fontWeight": "bold", "align": "center", "baseline": "middle", "color": "black"},
 "encoding": {"x": {"field": "x", "type": "quantitative"}, "y": {"field": "y", "type": "quantitative"}, "text": {"field": "s"}}}
]
},
{
"width": 467, "height": 376,
"layer": [
{
"layer": [
{"data": {"name": "T"}, "transform": [{"filter": {"field": "c4", "valid": true}}],
 "mark": {"type": "line", "color": "#fdc010", "strokeWidth": 1.8, "clip": true},
 "encoding": {
  "x": {"field": "t", "type": "quantitative", "scale": {"domain": [-20, 110], "nice": false, "zero": false},
        "axis": {"values": [-20,-10,0,10,20,30,40,50,60,70,80,90,100,110], "labelExpr": "datum.value % 20 == 0 ? (datum.value < 0 ? '-' : '') + abs(datum.value) : ''", "tickSize": {"condition": {"test": "datum.value % 20 != 0", "value": 4}, "value": 7}, "title": "Time (s)", "titlePadding": 2}},
  "y": {"field": "c4", "type": "quantitative", "scale": {"domain": [0, 18], "nice": false, "zero": false},
        "axis": {"values": [0,3,6,9,12,15,18], "labelExpr": "datum.value % 6 == 0 ? datum.label : ''", "format": "d", "tickSize": {"condition": {"test": "datum.value % 6 != 0", "value": 4}, "value": 6}, "title": "EQE (%)", "titlePadding": 15}}
 }},
{"data": {"name": "T"}, "transform": [{"filter": {"field": "c4", "valid": true}}],
 "mark": {"type": "point", "shape": "square", "filled": true, "size": 44, "color": "#fdc010", "opacity": 1, "clip": true},
 "encoding": {"x": {"field": "t", "type": "quantitative"}, "y": {"field": "c4", "type": "quantitative"}}},
{"data": {"name": "T"}, "transform": [{"filter": {"field": "c7", "valid": true}}],
 "mark": {"type": "line", "color": "#0b56a1", "strokeWidth": 1.8, "clip": true},
 "encoding": {"x": {"field": "t", "type": "quantitative"}, "y": {"field": "c7", "type": "quantitative"}}},
{"data": {"name": "T"}, "transform": [{"filter": {"field": "c7", "valid": true}}],
 "mark": {"type": "point", "shape": "circle", "filled": true, "size": 40, "color": "#0b56a1", "opacity": 1, "clip": true},
 "encoding": {"x": {"field": "t", "type": "quantitative"}, "y": {"field": "c7", "type": "quantitative"}}},
{"data": {"values": [{"t": -100, "c4": 5, "s": "450 nm"}, {"t": -100, "c4": 5, "s": "790 nm"}, {"t": -100, "c4": 5, "s": "Bias"}]},
 "mark": {"type": "point", "filled": true, "clip": true},
 "encoding": {
  "x": {"field": "t", "type": "quantitative"},
  "y": {"field": "c4", "type": "quantitative"},
  "fill": {"field": "s", "type": "nominal", "scale": {"domain": ["450 nm","790 nm","Bias"], "range": ["#fdc010","#0b56a1","#f0533f"]}, "legend": {"orient": "none", "legendX": 279, "legendY": 68, "title": null, "symbolSize": 1600, "symbolStrokeWidth": 2, "rowPadding": 0, "padding": 0, "labelFontSize": {"expr": "datum.label == 'Bias' ? 26 : 24"}, "labelOffset": 12, "labelColor": {"expr": "datum.label == 'Bias' ? '#f0533f' : 'black'"}}},
  "stroke": {"field": "s", "type": "nominal", "scale": {"domain": ["450 nm","790 nm","Bias"], "range": ["#fdc010","#0b56a1","#f0533f"]}, "legend": {"orient": "none", "legendX": 279, "legendY": 68, "title": null, "symbolSize": 1600, "symbolStrokeWidth": 2, "rowPadding": 0, "padding": 0, "labelFontSize": {"expr": "datum.label == 'Bias' ? 26 : 24"}, "labelOffset": 12, "labelColor": {"expr": "datum.label == 'Bias' ? '#f0533f' : 'black'"}}},
  "shape": {"field": "s", "type": "nominal", "scale": {"domain": ["450 nm","790 nm","Bias"], "range": ["M-1.375,0H1.375M-0.165,-0.165H0.165V0.165H-0.165Z", "M-1.375,0H1.375M0.15,0A0.15,0.15 0 1,1 -0.15,0A0.15,0.15 0 1,1 0.15,0Z", "M-1.375,0H-0.997M-0.78,0H-0.403M-0.187,0H0.191M0.407,0H0.785M1.0,0H1.375"]}, "legend": {"orient": "none", "legendX": 279, "legendY": 68, "title": null, "symbolSize": 1600, "symbolStrokeWidth": 2, "rowPadding": 0, "padding": 0, "labelFontSize": {"expr": "datum.label == 'Bias' ? 26 : 24"}, "labelOffset": 12, "labelColor": {"expr": "datum.label == 'Bias' ? '#f0533f' : 'black'"}}}
 }},
{"data": {"values": [{"x": 48.4, "y": 16.52, "s": "Forward bias"}]},
 "mark": {"type": "text", "fontSize": 30, "align": "left", "baseline": "middle", "color": "black"},
 "encoding": {"x": {"field": "x", "type": "quantitative"}, "y": {"field": "y", "type": "quantitative"}, "text": {"field": "s"}}},
{"data": {"values": [{"x": -10.6, "y": 12.78, "s": "Dark"}]},
 "mark": {"type": "text", "fontSize": 28, "align": "center", "baseline": "middle", "color": "#f0533f"},
 "encoding": {"x": {"field": "x", "type": "quantitative"}, "y": {"field": "y", "type": "quantitative"}, "text": {"field": "s"}}},
{"data": {"values": [{"x": 11.4, "y": 1.0, "s": "Light on"}]},
 "mark": {"type": "text", "fontSize": 29, "align": "left", "baseline": "middle", "color": "#f0533f"},
 "encoding": {"x": {"field": "x", "type": "quantitative"}, "y": {"field": "y", "type": "quantitative"}, "text": {"field": "s"}}},
{"data": {"values": [{"x": -41.5, "y": 17.81, "s": "(C)"}]},
 "mark": {"type": "text", "fontSize": 25, "font": "Liberation Serif", "fontWeight": "bold", "align": "center", "baseline": "middle", "color": "black"},
 "encoding": {"x": {"field": "x", "type": "quantitative"}, "y": {"field": "y", "type": "quantitative"}, "text": {"field": "s"}}}
]
},
{
"layer": [
{"data": {"values": [{"t": -20, "b": 0.6, "o": 1}, {"t": 0, "b": 0.6, "o": 2}, {"t": 0, "b": 0, "o": 3}, {"t": 110, "b": 0, "o": 4}]},
 "mark": {"type": "line", "color": "#f0533f", "strokeWidth": 2.4, "strokeDash": [7, 4]},
 "encoding": {
  "x": {"field": "t", "type": "quantitative"},
  "y": {"field": "b", "type": "quantitative", "scale": {"domain": [-0.106, 0.8], "nice": false, "zero": false},
        "axis": {"orient": "right", "values": [0, 0.3, 0.6], "labelExpr": "datum.value == 0.3 ? '' : format(datum.value, '.1f')", "tickSize": {"condition": {"test": "datum.value == 0.3", "value": 4}, "value": 7}, "title": "Bias (V)", "titleAngle": 270, "titleBaseline": "top", "titlePadding": 0, "titleFontSize": 31, "domainColor": "#f0533f", "tickColor": "#f0533f", "labelColor": "#f0533f", "titleColor": "#f0533f"}},
  "order": {"field": "o", "type": "quantitative"}
 }},
{"data": {"values": [{"t": 8.6, "b": -0.058, "o": 1}, {"t": 0.6, "b": -0.007, "o": 2}]},
 "mark": {"type": "line", "color": "#f0533f", "strokeWidth": 2},
 "encoding": {"x": {"field": "t", "type": "quantitative"}, "y": {"field": "b", "type": "quantitative"}, "order": {"field": "o", "type": "quantitative"}}},
{"data": {"values": [{"t": 0.6, "b": -0.007}]},
 "mark": {"type": "point", "shape": "M-0.5,0.9L0,0L0.5,0.9", "filled": false, "size": 400, "color": "#f0533f", "strokeWidth": 2, "opacity": 1, "angle": 303},
 "encoding": {"x": {"field": "t", "type": "quantitative"}, "y": {"field": "b", "type": "quantitative"}}}
]
}
],
"resolve": {"scale": {"y": "independent"}}
},
{
"width": 472, "height": 376,
"layer": [
{
"layer": [
{"data": {"name": "T"}, "transform": [{"filter": {"field": "d4", "valid": true}}],
 "mark": {"type": "line", "color": "#fdc010", "strokeWidth": 1.8, "clip": true},
 "encoding": {
  "x": {"field": "t", "type": "quantitative", "scale": {"domain": [-20, 110], "nice": false, "zero": false},
        "axis": {"values": [-20,-10,0,10,20,30,40,50,60,70,80,90,100,110], "labelExpr": "datum.value % 20 == 0 ? (datum.value < 0 ? '-' : '') + abs(datum.value) : ''", "tickSize": {"condition": {"test": "datum.value % 20 != 0", "value": 4}, "value": 7}, "title": "Time (s)", "titlePadding": 2}},
  "y": {"field": "d4", "type": "quantitative", "scale": {"domain": [0, 10], "nice": false, "zero": false},
        "axis": {"values": [0,1,2,3,4,5,6,7,8,9,10], "labelExpr": "datum.value % 2 == 0 ? datum.label : ''", "format": "d", "tickSize": {"condition": {"test": "datum.value % 2 != 0", "value": 4}, "value": 6}, "title": "EQE (%)", "titlePadding": 15}}
 }},
{"data": {"name": "T"}, "transform": [{"filter": {"field": "d4", "valid": true}}],
 "mark": {"type": "point", "shape": "square", "filled": true, "size": 44, "color": "#fdc010", "opacity": 1, "clip": true},
 "encoding": {"x": {"field": "t", "type": "quantitative"}, "y": {"field": "d4", "type": "quantitative"}}},
{"data": {"name": "T"}, "transform": [{"filter": {"field": "d7", "valid": true}}],
 "mark": {"type": "line", "color": "#0b56a1", "strokeWidth": 1.8, "clip": true},
 "encoding": {"x": {"field": "t", "type": "quantitative"}, "y": {"field": "d7", "type": "quantitative"}}},
{"data": {"name": "T"}, "transform": [{"filter": {"field": "d7", "valid": true}}],
 "mark": {"type": "point", "shape": "circle", "filled": true, "size": 40, "color": "#0b56a1", "opacity": 1, "clip": true},
 "encoding": {"x": {"field": "t", "type": "quantitative"}, "y": {"field": "d7", "type": "quantitative"}}},
{"data": {"values": [{"t": -100, "d4": 5, "s": "450 nm"}, {"t": -100, "d4": 5, "s": "790 nm"}, {"t": -100, "d4": 5, "s": "Bias"}]},
 "mark": {"type": "point", "filled": true, "clip": true},
 "encoding": {
  "x": {"field": "t", "type": "quantitative"},
  "y": {"field": "d4", "type": "quantitative"},
  "fill": {"field": "s", "type": "nominal", "scale": {"domain": ["450 nm","790 nm","Bias"], "range": ["#fdc010","#0b56a1","#f0533f"]}, "legend": {"orient": "none", "legendX": 245, "legendY": 216, "title": null, "symbolSize": 1600, "symbolStrokeWidth": 2, "rowPadding": 0, "padding": 0, "labelFontSize": {"expr": "datum.label == 'Bias' ? 26 : 24"}, "labelOffset": 12, "labelColor": {"expr": "datum.label == 'Bias' ? '#f0533f' : 'black'"}}},
  "stroke": {"field": "s", "type": "nominal", "scale": {"domain": ["450 nm","790 nm","Bias"], "range": ["#fdc010","#0b56a1","#f0533f"]}, "legend": {"orient": "none", "legendX": 245, "legendY": 216, "title": null, "symbolSize": 1600, "symbolStrokeWidth": 2, "rowPadding": 0, "padding": 0, "labelFontSize": {"expr": "datum.label == 'Bias' ? 26 : 24"}, "labelOffset": 12, "labelColor": {"expr": "datum.label == 'Bias' ? '#f0533f' : 'black'"}}},
  "shape": {"field": "s", "type": "nominal", "scale": {"domain": ["450 nm","790 nm","Bias"], "range": ["M-1.375,0H1.375M-0.165,-0.165H0.165V0.165H-0.165Z", "M-1.375,0H1.375M0.15,0A0.15,0.15 0 1,1 -0.15,0A0.15,0.15 0 1,1 0.15,0Z", "M-1.375,0H-0.997M-0.78,0H-0.403M-0.187,0H0.191M0.407,0H0.785M1.0,0H1.375"]}, "legend": {"orient": "none", "legendX": 245, "legendY": 216, "title": null, "symbolSize": 1600, "symbolStrokeWidth": 2, "rowPadding": 0, "padding": 0, "labelFontSize": {"expr": "datum.label == 'Bias' ? 26 : 24"}, "labelOffset": 12, "labelColor": {"expr": "datum.label == 'Bias' ? '#f0533f' : 'black'"}}}
 }},
{"data": {"values": [{"x": 51.6, "y": 9.18, "s": "Reverse bias"}]},
 "mark": {"type": "text", "fontSize": 30, "align": "left", "baseline": "middle", "color": "black"},
 "encoding": {"x": {"field": "x", "type": "quantitative"}, "y": {"field": "y", "type": "quantitative"}, "text": {"field": "s"}}},
{"data": {"values": [{"x": -10.0, "y": 0.66, "s": "Dark"}]},
 "mark": {"type": "text", "fontSize": 28, "align": "center", "baseline": "middle", "color": "#f0533f"},
 "encoding": {"x": {"field": "x", "type": "quantitative"}, "y": {"field": "y", "type": "quantitative"}, "text": {"field": "s"}}},
{"data": {"values": [{"x": 11.7, "y": 7.85, "s": "Light on"}]},
 "mark": {"type": "text", "fontSize": 29, "align": "left", "baseline": "middle", "color": "#f0533f"},
 "encoding": {"x": {"field": "x", "type": "quantitative"}, "y": {"field": "y", "type": "quantitative"}, "text": {"field": "s"}}},
{"data": {"values": [{"x": -41.8, "y": 9.76, "s": "(D)"}]},
 "mark": {"type": "text", "fontSize": 25, "font": "Liberation Serif", "fontWeight": "bold", "align": "center", "baseline": "middle", "color": "black"},
 "encoding": {"x": {"field": "x", "type": "quantitative"}, "y": {"field": "y", "type": "quantitative"}, "text": {"field": "s"}}}
]
},
{
"layer": [
{"data": {"values": [{"t": -20, "b": -0.1, "o": 1}, {"t": 0, "b": -0.1, "o": 2}, {"t": 0, "b": 0, "o": 3}, {"t": 110, "b": 0, "o": 4}]},
 "mark": {"type": "line", "color": "#f0533f", "strokeWidth": 2.4, "strokeDash": [7, 4]},
 "encoding": {
  "x": {"field": "t", "type": "quantitative"},
  "y": {"field": "b", "type": "quantitative", "scale": {"domain": [-0.1201, 0.0201], "nice": false, "zero": false},
        "axis": {"orient": "right", "values": [-0.1, -0.05, 0], "labelExpr": "datum.value == -0.05 ? '' : (datum.value < 0 ? '-0.1' : '0.0')", "tickSize": {"condition": {"test": "datum.value == -0.05", "value": 4}, "value": 7}, "title": "Bias (V)", "titleAngle": 270, "titleBaseline": "top", "titlePadding": 0, "titleFontSize": 31, "domainColor": "#f0533f", "tickColor": "#f0533f", "labelColor": "#f0533f", "titleColor": "#f0533f"}},
  "order": {"field": "o", "type": "quantitative"}
 }},
{"data": {"values": [{"t": 9.2, "b": -0.0101, "o": 1}, {"t": 0.66, "b": -0.0007, "o": 2}]},
 "mark": {"type": "line", "color": "#f0533f", "strokeWidth": 2},
 "encoding": {"x": {"field": "t", "type": "quantitative"}, "y": {"field": "b", "type": "quantitative"}, "order": {"field": "o", "type": "quantitative"}}},
{"data": {"values": [{"t": 0.66, "b": -0.0007}]},
 "mark": {"type": "point", "shape": "M-0.5,0.9L0,0L0.5,0.9", "filled": false, "size": 400, "color": "#f0533f", "strokeWidth": 2, "opacity": 1, "angle": 310},
 "encoding": {"x": {"field": "t", "type": "quantitative"}, "y": {"field": "b", "type": "quantitative"}}}
]
}
],
"resolve": {"scale": {"y": "independent"}}
}
],
"columns": 2,
"spacing": {"row": 82, "column": 194},
"bounds": "flush",
"resolve": {"scale": {"color": "independent", "fill": "independent", "stroke": "independent", "shape": "independent"}, "legend": {"color": "independent", "fill": "independent", "stroke": "independent", "shape": "independent"}}
}
